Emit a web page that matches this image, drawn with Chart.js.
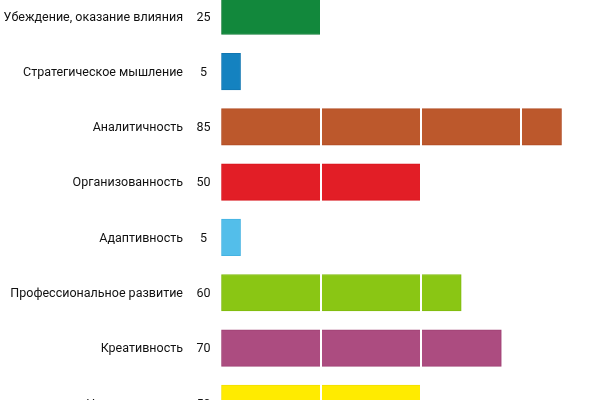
<!DOCTYPE html>
<html>
<head>
<meta charset="utf-8">
<script src="https://cdn.jsdelivr.net/npm/chart.js@4/dist/chart.umd.min.js"></script>
<style>
  html, body { margin: 0; padding: 0; background: #fff; }
  #frame { position: relative; width: 600px; height: 400px; overflow: hidden; }
  #box { position: absolute; left: 0; top: -20px; width: 640px; height: 460px; }
</style>
</head>
<body>
<div id="frame"><div id="box"><canvas id="c"></canvas></div></div>
<script>
const categories = [
  "Убеждение, оказание влияния",
  "Стратегическое мышление",
  "Аналитичность",
  "Организованность",
  "Адаптивность",
  "Профессиональное развитие",
  "Креативность",
  "Наставничество"
];
const values = [25, 5, 85, 50, 5, 60, 70, 50];
const xTicks = [0, 25, 50, 75, 100];

const fillColors = ["#12883C", "#1482C0", "#BC582C", "#E21E26", "#53BEEA", "#8AC614", "#AC4C80", "#FFEB00"];
const edgeColors = ["#0E7A34", "#1076B2", "#B04B22", "#D8141C", "#45B3E2", "#7FBA0E", "#9E4073", "#F2DF00"];

const valueLabels = values.map(v => String(v));

const noPad = s => { s.paddingTop = 0; s.paddingBottom = 0; };

new Chart(document.getElementById('c'), {
  type: 'bar',
  data: {
    labels: categories,
    datasets: [{
      data: values,
      backgroundColor: fillColors,
      borderColor: edgeColors,
      borderWidth: 1,
      borderSkipped: false,
      barThickness: 36.5,
      yAxisID: 'y',
      xAxisID: 'x'
    }]
  },
  options: {
    indexAxis: 'y',
    responsive: true,
    maintainAspectRatio: false,
    animation: false,
    devicePixelRatio: 1,
    layout: { padding: { top: 8.6, bottom: 9, left: 0, right: 18.3 } },
    plugins: { legend: { display: false }, tooltip: { enabled: false } },
    scales: {
      x: {
        type: 'linear',
        min: xTicks[0],
        max: xTicks[xTicks.length - 1],
        afterBuildTicks: s => { s.ticks = xTicks.map(v => ({ value: v })); },
        ticks: { display: false },
        border: { display: false },
        grid: {
          z: 1,
          drawTicks: false,
          lineWidth: 2,
          color: ctx => (ctx.tick && ctx.tick.value === 0) ? 'rgba(0,0,0,0)' : '#ffffff'
        }
      },
      y: {
        type: 'category',
        position: 'left',
        weight: 2,
        offset: true,
        grid: { display: false, drawTicks: false },
        border: { display: false },
        ticks: {
          padding: 7,
          labelOffset: 1.2,
          color: '#111111',
          font: { family: 'Roboto', size: 12.5 },
          crossAlign: 'near',
          autoSkip: false
        },
        afterFit: s => { s.width = 190; noPad(s); }
      },
      yv: {
        type: 'category',
        labels: valueLabels,
        position: 'left',
        weight: 1,
        offset: true,
        grid: { display: false, drawTicks: false },
        border: { display: false },
        ticks: {
          padding: 10,
          labelOffset: 1.2,
          color: '#111111',
          font: { family: 'Roboto', size: 12.5 },
          crossAlign: 'center',
          autoSkip: false
        },
        afterFit: s => { s.width = 30.5; noPad(s); }
      }
    }
  }
});
</script>
</body>
</html>
